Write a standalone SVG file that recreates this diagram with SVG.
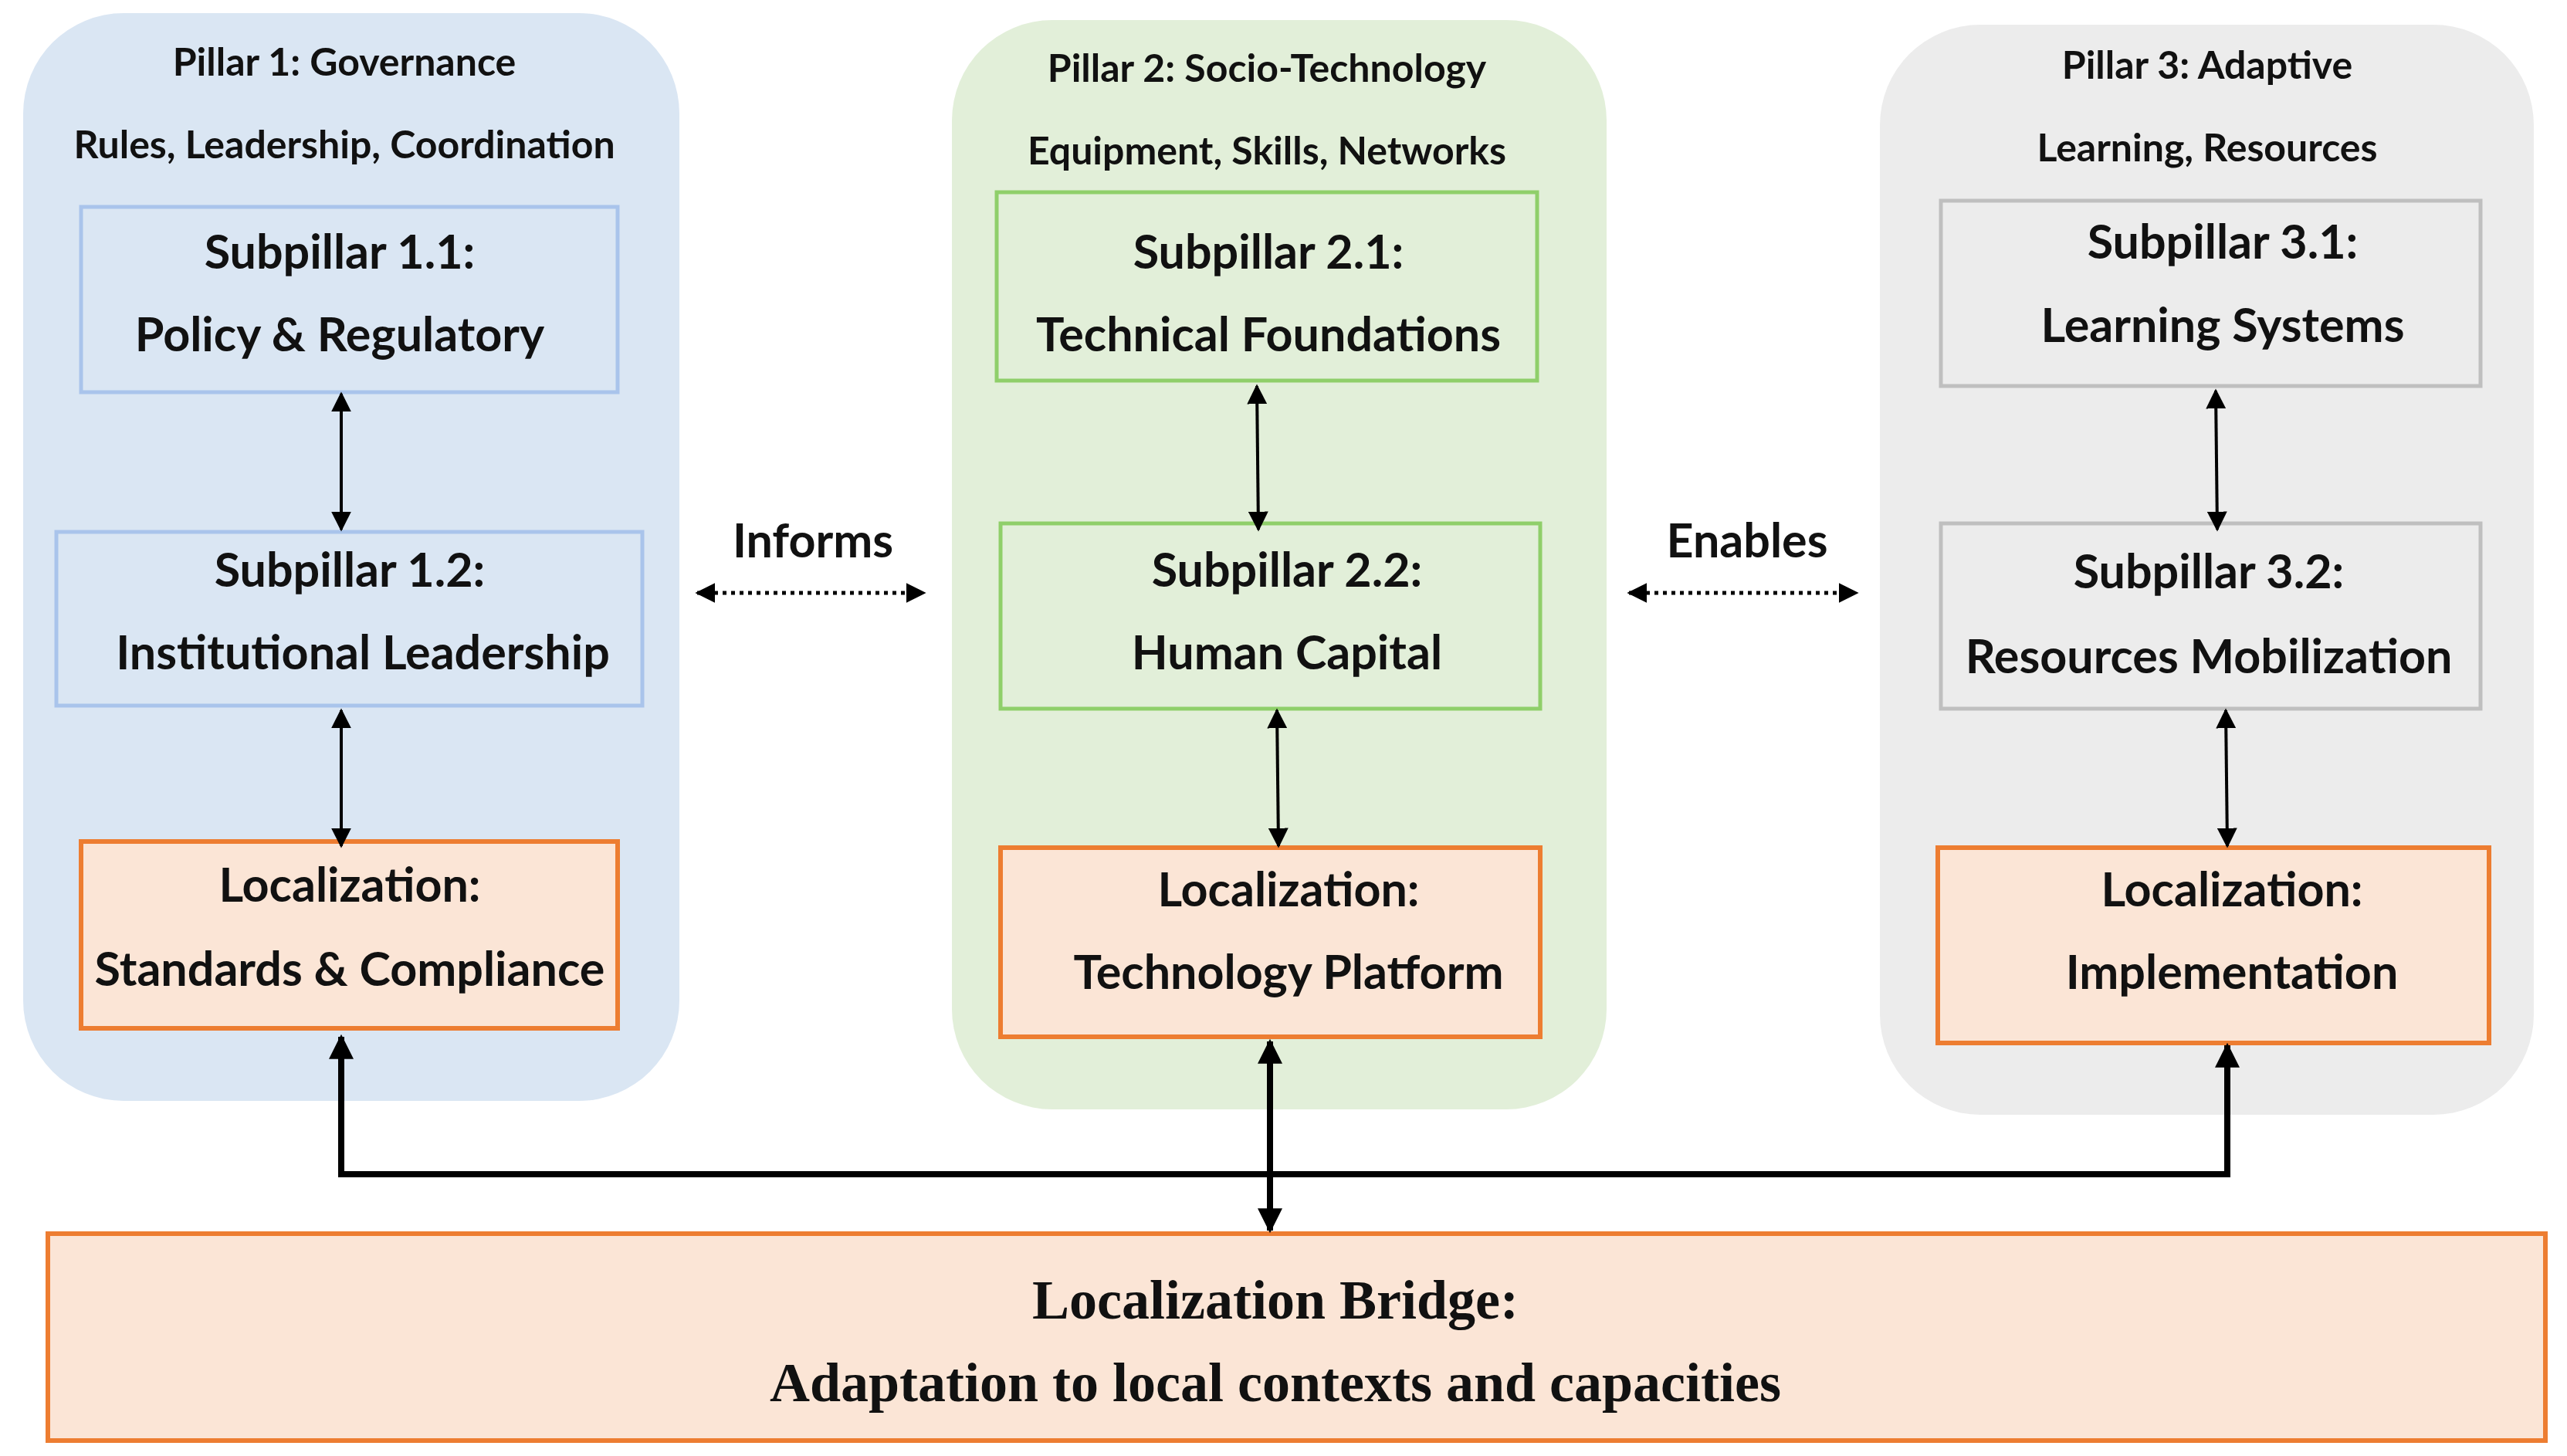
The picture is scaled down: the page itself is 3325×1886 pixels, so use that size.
<svg xmlns="http://www.w3.org/2000/svg" width="3325" height="1886" viewBox="0 0 3325 1886">
<style>
.t{font-family:Lato,"Liberation Sans",sans-serif;font-weight:700;font-size:50px;fill:#111;text-anchor:middle}
.b{font-family:Lato,"Liberation Sans",sans-serif;font-weight:700;font-size:61px;fill:#111;text-anchor:middle}
.s{font-family:"Liberation Serif",serif;font-weight:700;font-size:72px;fill:#111;text-anchor:middle}
.ln{stroke:#000;stroke-width:4;fill:none}
.th{stroke:#000;stroke-width:8;fill:none}
.dt{stroke:#000;stroke-width:5;stroke-dasharray:5 6;fill:none}
.loc{fill:#fbe5d6;stroke:#ed7d31;stroke-width:6}
</style>
<defs>
<marker id="a" viewBox="0 0 10 10" refX="9" refY="5" markerWidth="26" markerHeight="26" markerUnits="userSpaceOnUse" orient="auto-start-reverse"><path d="M0,0L10,5L0,10z" fill="#000"/></marker>
<marker id="a2" viewBox="0 0 10 10" refX="9" refY="5" markerWidth="32" markerHeight="32" markerUnits="userSpaceOnUse" orient="auto-start-reverse"><path d="M0,0L10,5L0,10z" fill="#000"/></marker>
</defs>
<g id="pillar1">
<rect x="30" y="17" width="850" height="1409" rx="130" fill="#dae6f3"/>
<text class="t" x="446" y="98">Pillar 1: Governance</text>
<text class="t" x="446" y="205">Rules, Leadership, Coordination</text>
</g>
<g id="pillar2">
<rect x="1233" y="26" width="848" height="1411" rx="130" fill="#e2efd9"/>
<text class="t" x="1641" y="106">Pillar 2: Socio-Technology</text>
<text class="t" x="1641" y="213">Equipment, Skills, Networks</text>
</g>
<g id="pillar3">
<rect x="2435" y="32" width="847" height="1412" rx="130" fill="#ececec"/>
<text class="t" x="2859" y="102">Pillar 3: Adaptive</text>
<text class="t" x="2859" y="209">Learning, Resources</text>
</g>
<g id="sub11"><rect x="105" y="268" width="695" height="240" fill="none" stroke="#a9c4eb" stroke-width="5"/>
<text class="b" x="440" y="348">Subpillar 1.1:</text><text class="b" x="440" y="455">Policy &amp; Regulatory</text></g>
<g id="sub12"><rect x="73" y="689" width="759" height="225" fill="none" stroke="#a9c4eb" stroke-width="5"/>
<text class="b" x="453" y="760">Subpillar 1.2:</text><text class="b" x="470" y="867">Institutional Leadership</text></g>
<g id="loc1"><rect class="loc" x="105" y="1090" width="695" height="242"/>
<text class="b" x="453" y="1168">Localization:</text><text class="b" x="453" y="1277">Standards &amp; Compliance</text></g>
<g id="sub21"><rect x="1291" y="249" width="700" height="244" fill="none" stroke="#8fcf6a" stroke-width="5"/>
<text class="b" x="1643" y="348">Subpillar 2.1:</text><text class="b" x="1643" y="455">Technical Foundations</text></g>
<g id="sub22"><rect x="1296" y="678" width="699" height="240" fill="none" stroke="#8fcf6a" stroke-width="5"/>
<text class="b" x="1667" y="760">Subpillar 2.2:</text><text class="b" x="1667" y="867">Human Capital</text></g>
<g id="loc2"><rect class="loc" x="1296" y="1098" width="699" height="245"/>
<text class="b" x="1669" y="1174">Localization:</text><text class="b" x="1669" y="1281">Technology Platform</text></g>
<g id="sub31"><rect x="2514" y="260" width="699" height="240" fill="none" stroke="#bfbfbf" stroke-width="5"/>
<text class="b" x="2879" y="335">Subpillar 3.1:</text><text class="b" x="2879" y="443">Learning Systems</text></g>
<g id="sub32"><rect x="2514" y="678" width="699" height="240" fill="none" stroke="#bfbfbf" stroke-width="5"/>
<text class="b" x="2861" y="762">Subpillar 3.2:</text><text class="b" x="2861" y="872">Resources Mobilization</text></g>
<g id="loc3"><rect class="loc" x="2510" y="1098" width="714" height="253"/>
<text class="b" x="2891" y="1174">Localization:</text><text class="b" x="2891" y="1281">Implementation</text></g>
<g id="bridge"><rect class="loc" x="62" y="1598" width="3235" height="268"/>
<text class="s" x="1652" y="1708">Localization Bridge:</text>
<text class="s" x="1652" y="1815">Adaptation to local contexts and capacities</text></g>
<g id="connectors">
<line class="ln" x1="442" y1="510" x2="442" y2="686" marker-start="url(#a)" marker-end="url(#a)"/>
<line class="ln" x1="442" y1="920" x2="442" y2="1096" marker-start="url(#a)" marker-end="url(#a)"/>
<line class="ln" x1="1628" y1="500" x2="1630" y2="686" marker-start="url(#a)" marker-end="url(#a)"/>
<line class="ln" x1="1654" y1="920" x2="1656" y2="1096" marker-start="url(#a)" marker-end="url(#a)"/>
<line class="ln" x1="2870" y1="506" x2="2872" y2="686" marker-start="url(#a)" marker-end="url(#a)"/>
<line class="ln" x1="2883" y1="920" x2="2885" y2="1096" marker-start="url(#a)" marker-end="url(#a)"/>
<path class="th" d="M442,1343V1521H2885V1354" marker-start="url(#a2)" marker-end="url(#a2)"/>
<line class="th" x1="1645" y1="1349" x2="1645" y2="1594" marker-start="url(#a2)" marker-end="url(#a2)"/>
<line class="dt" x1="903" y1="768" x2="1197" y2="768" marker-start="url(#a)" marker-end="url(#a)"/>
<line class="dt" x1="2110" y1="768" x2="2405" y2="768" marker-start="url(#a)" marker-end="url(#a)"/>
<text class="b" x="1053" y="722">Informs</text>
<text class="b" x="2263" y="722">Enables</text>
</g>
</svg>
